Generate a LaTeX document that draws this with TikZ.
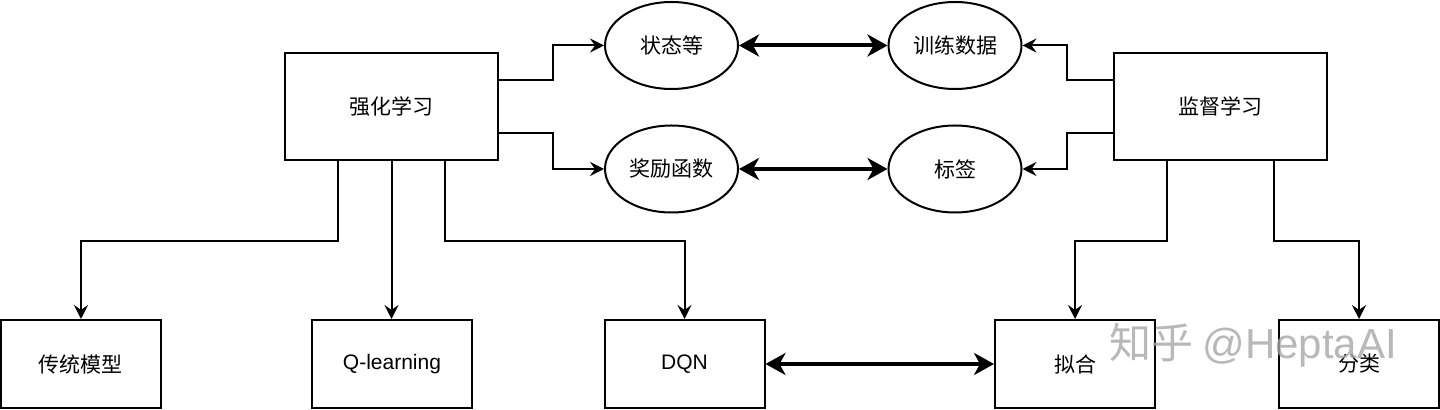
\documentclass[tikz,border=0pt]{standalone}
\usepackage{fontspec}
\setmainfont{Liberation Sans}
\newfontfamily\cjk{Noto Sans CJK SC}
\usetikzlibrary{arrows.meta, shapes.geometric}

\begin{document}
\begin{tikzpicture}[x=0.5pt, y=-0.5pt,
                        every node/.style={draw=black, line width=1pt, font=\fontsize{10.5pt}{12pt}\selectfont},
                        box/.style={rectangle, minimum width=106.5pt, minimum height=53.5pt},
                        leaf/.style={rectangle, minimum width=80pt, minimum height=44pt},
                        oval/.style={ellipse, minimum width=66.5pt, minimum height=43.5pt, inner sep=0pt},
                        arr/.style={draw, line width=1pt, -{Stealth[length=7pt, width=7pt, inset=2.5pt]}},
                        dbl/.style={draw, line width=2pt, {Stealth[length=10pt, width=11pt, inset=3pt]}-{Stealth[length=10pt, width=11pt, inset=3pt]}}]

                        \useasboundingbox (0,0) rectangle (1440,410);

                        % Top level
                        \node[box] (RL) at (391.5,106.5) {\cjk 强化学习}; % Reinforcement learning
                        \node[box] (SL) at (1220.5,106.5) {\cjk 监督学习}; % Supervised learning

                        % Ovals in the middle
                        \node[oval] (state) at (671.5,45.5) {\cjk 状态等};
                        \node[oval] (train) at (955,45.5) {\cjk 训练数据};
                        \node[oval] (reward) at (671.5,169) {\cjk 奖励函数};
                        \node[oval] (label) at (955,169) {\cjk 标签};

                        % Bottom row
                        \node[leaf] (trad) at (81,364) {\cjk 传统模型};
                        \node[leaf] (ql) at (392,364) {Q-learning};
                        \node[leaf] (dqn) at (684.5,364) {DQN};
                        \node[leaf] (fit) at (1075,364) {\cjk 拟合};
                        \node[leaf] (cls) at (1359,364) {\cjk 分类};

                        % Define edges
                        \path [arr] ([yshift=13.25pt]RL.east) -- ++(54,0) |- (state);
                        \path [arr] ([yshift=-13.25pt]RL.east) -- ++(54,0) |- (reward);
                        \path [arr] ([yshift=13.25pt]SL.west) -- ++(-46,0) |- (train);
                        \path [arr] ([yshift=-13.25pt]SL.west) -- ++(-46,0) |- (label);

                        \path [arr] ([xshift=-26.75pt]RL.south) -- ++(0,80) -| (trad);
                        \path [arr] (RL.south) -- (RL.south |- ql.north);
                        \path [arr] ([xshift=26.75pt]RL.south) -- ++(0,80) -| (dqn);
                        \path [arr] ([xshift=-26.75pt]SL.south) -- ++(0,80) -| (fit);
                        \path [arr] ([xshift=26.75pt]SL.south) -- ++(0,80) -| (cls);

                        % Correspondences
                        \path [dbl] (state) -- (train);
                        \path [dbl] (reward) -- (label);
                        \path [dbl] (dqn) -- (fit);

                        % Watermark
                        \node[draw=none, text=gray!70, opacity=0.8, font=\fontsize{21pt}{24pt}\selectfont] (mark) at (1253,345) {\cjk 知乎\ \rmfamily @HeptaAI};
                    \end{tikzpicture}
\end{document}
